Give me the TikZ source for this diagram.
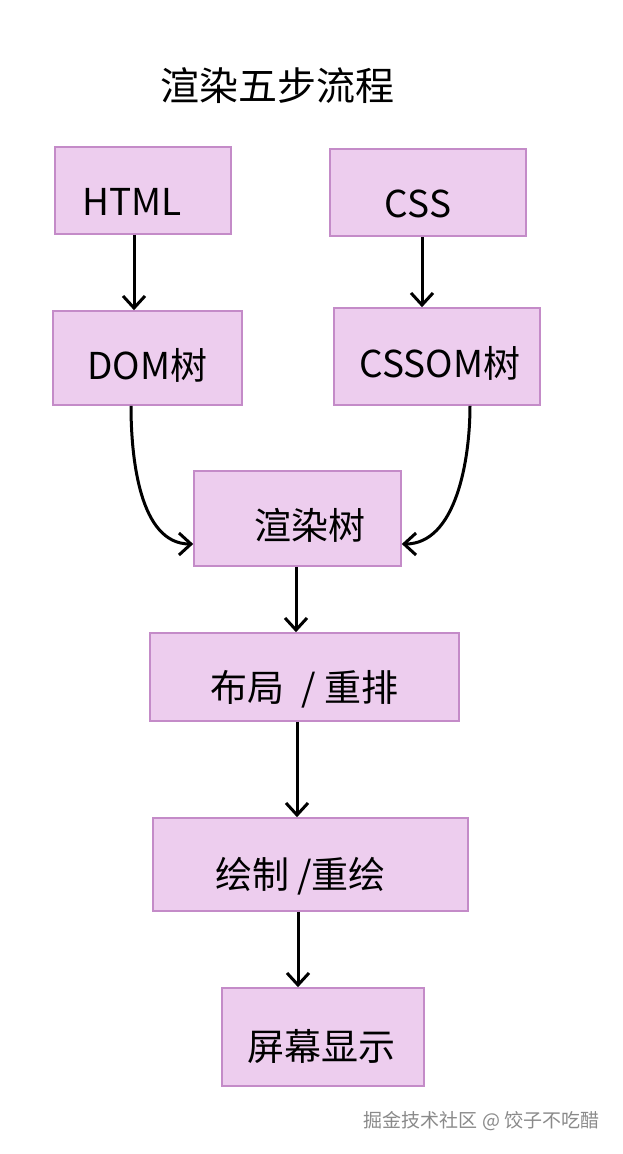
\documentclass[tikz,border=0pt]{standalone}
\usepackage{fontspec}
\setmainfont{Noto Sans CJK SC}
\usetikzlibrary{arrows.meta}
\definecolor{boxfill}{HTML}{EDCDEE}
\definecolor{boxline}{HTML}{C48BC8}
\definecolor{wm}{HTML}{8A8A8A}
\newcommand\tx[3]{\raisebox{#2}[0pt][0pt]{\makebox[0pt]{\kern#1\kern#1#3}}}
\begin{document}
\begin{tikzpicture}[x=1pt,y=-1pt,
  stepbox/.style={draw=boxline, fill=boxfill, line width=1.6pt, inner sep=0pt, font=\fontsize{37}{40}\selectfont},
  arr/.style={-{Straight Barb[length=12pt,width=22pt,line width=3pt]}, line width=3pt, black}]
\useasboundingbox[fill=white] (0,0) rectangle (623,1154);
\node (title) at (277,86) {\fontsize{39}{42}\selectfont 渲染五步流程};
\node[stepbox, minimum width=176pt, minimum height=87pt] (html) at (143,190.5) {\tx{-11pt}{-25pt}{HTML}};
\node[stepbox, minimum width=196pt, minimum height=87pt] (css) at (428,192.5) {\tx{-10pt}{-25pt}{CSS}};
\node[stepbox, minimum width=189pt, minimum height=94pt] (dom) at (147.5,358) {\tx{0pt}{-21pt}{DOM树}};
\node[stepbox, minimum width=206pt, minimum height=97pt] (cssom) at (437,356.5) {\tx{3pt}{-21pt}{CSSOM树}};
\node[stepbox, minimum width=207pt, minimum height=95pt] (render) at (297.5,518.5) {\tx{12pt}{-21pt}{渲染树}};
\node[stepbox, minimum width=309pt, minimum height=88pt] (layout) at (304.5,677) {\tx{0pt}{-24pt}{布局\ \ / 重排}};
\node[stepbox, minimum width=315pt, minimum height=93pt] (paint) at (310.5,864.5) {\tx{-10pt}{-24pt}{绘制 /重绘}};
\node[stepbox, minimum width=202pt, minimum height=98pt] (screen) at (323,1037) {\tx{-2pt}{-23pt}{屏幕显示}};
\node[anchor=east, text=wm, font=\fontsize{19}{22}\selectfont] (wmark) at (603,1121) {掘金技术社区 @ 饺子不吃醋};
\draw[arr] ([xshift=-9pt]html.south) -- ([xshift=-9pt]html.south |- dom.north);
\draw[arr] ([xshift=-6pt]css.south) -- ([xshift=-6pt]css.south |- cssom.north);
\draw[arr] ([xshift=-16.5pt]dom.south) to[out=-90,in=180,looseness=0.9] ([yshift=-25.5pt]render.west);
\draw[arr] ([xshift=33pt]cssom.south) to[out=-90,in=0,looseness=0.9] ([yshift=-25.5pt]render.east);
\draw[arr] ([xshift=-1.5pt]render.south) -- ([xshift=-1.5pt]render.south |- layout.north);
\draw[arr] ([xshift=-7.5pt]layout.south) -- ([xshift=-7.5pt]layout.south |- paint.north);
\draw[arr] ([xshift=-12.5pt]paint.south) -- ([xshift=-25pt]screen.north);
\end{tikzpicture}
\end{document}
